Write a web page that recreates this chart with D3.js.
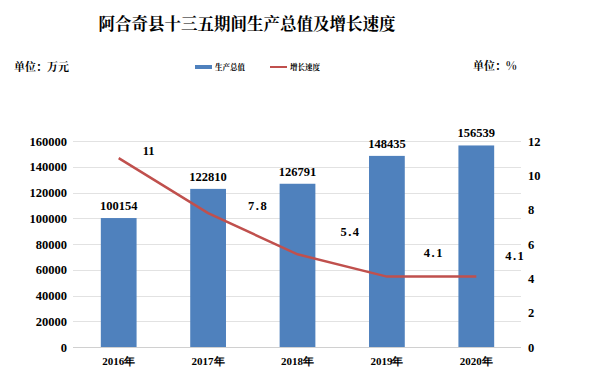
<!DOCTYPE html>
<html><head><meta charset="utf-8">
<script src="https://cdn.jsdelivr.net/npm/d3@7"></script>
<style>body{margin:0;background:#fff}</style>
</head><body>
<svg id="c" width="593" height="383"></svg>
<script>
const categories = ["2016年","2017年","2018年","2019年","2020年"];
const gdp = [100154,122810,126791,148435,156539];
const growth = [11,7.8,5.4,4.1,4.1];
const leftTicks = [0,20000,40000,60000,80000,100000,120000,140000,160000];
const rightTicks = [0,2,4,6,8,10,12];
const growthLabelDx = [30,50,53,47,39];
const growthLabelDy = [-3,-3,-18,-20,-17];

const svg = d3.select("#c");
const serif = "'Liberation Serif','DejaVu Serif',serif";
const cjk = "'Noto Serif CJK SC','Noto Sans CJK SC',sans-serif";
const m = {l:74, r:521, t:141, b:347};
const x = d3.scaleBand().domain(categories).range([m.l,m.r]).paddingInner(0.6).paddingOuter(0.3);
const yL = d3.scaleLinear().domain([0,160000]).range([m.b,m.t]);
const yR = d3.scaleLinear().domain([0,12]).range([m.b,m.t]);

svg.append("text").attr("x",247).attr("y",30).attr("text-anchor","middle")
  .attr("font-family",cjk).attr("font-weight","bold").attr("font-size",16.5).text("阿合奇县十三五期间生产总值及增长速度");
svg.append("text").attr("x",14).attr("y",71).attr("font-family",cjk).attr("font-weight","bold").attr("font-size",11).text("单位：万元");
svg.append("text").attr("x",473).attr("y",70).attr("font-family",cjk).attr("font-weight","bold").attr("font-size",11).text("单位：%");

// legend
svg.append("rect").attr("x",195).attr("y",65).attr("width",17).attr("height",4).attr("fill","#4f81bd");
svg.append("text").attr("x",215).attr("y",70).attr("font-family",cjk).attr("font-weight","bold").attr("font-size",7.5).text("生产总值");
svg.append("line").attr("x1",270).attr("x2",287).attr("y1",67).attr("y2",67).attr("stroke","#c0504d").attr("stroke-width",2);
svg.append("text").attr("x",290).attr("y",70).attr("font-family",cjk).attr("font-weight","bold").attr("font-size",7.5).text("增长速度");

// gridlines
svg.append("g").selectAll("line").data(leftTicks).join("line")
  .attr("x1",m.l-1).attr("x2",m.r).attr("y1",d=>Math.round(yL(d))+0.5).attr("y2",d=>Math.round(yL(d))+0.5)
  .attr("stroke",d=>d===0?"#d0d0d0":"#e2e2e2").attr("stroke-width",1);

// left axis
const gl = svg.append("g").attr("transform",`translate(${m.l-7},0)`)
  .call(d3.axisLeft(yL).tickValues(leftTicks).tickSize(0).tickPadding(0).tickFormat(d3.format("d")));
gl.select(".domain").remove();
gl.selectAll("text").attr("font-family",serif).attr("font-weight","bold").attr("font-size",12.5).attr("fill","#000");

// right axis
const gr = svg.append("g").attr("transform",`translate(${m.r+7},0)`)
  .call(d3.axisRight(yR).tickValues(rightTicks).tickSize(0).tickPadding(0));
gr.select(".domain").remove();
gr.selectAll("text").attr("font-family",serif).attr("font-weight","bold").attr("font-size",12.5).attr("fill","#000");

// bottom axis
const gb = svg.append("g").attr("transform",`translate(0,${m.b})`)
  .call(d3.axisBottom(x).tickSize(0).tickPadding(10));
gb.select(".domain").remove();
gb.selectAll("text").attr("font-family",serif).attr("font-weight","bold").attr("font-size",11).attr("fill","#000");

// bars
svg.append("g").selectAll("rect").data(gdp).join("rect")
  .attr("x",(d,i)=>x(categories[i])).attr("width",x.bandwidth())
  .attr("y",d=>yL(d)).attr("height",d=>m.b-yL(d)).attr("fill","#4f81bd");
svg.append("g").selectAll("text").data(gdp).join("text")
  .attr("x",(d,i)=>x(categories[i])+x.bandwidth()/2).attr("y",d=>yL(d)-8)
  .attr("text-anchor","middle").attr("font-family",serif).attr("font-weight","bold").attr("font-size",12.5).text(d=>d);

// line
const line = d3.line().x((d,i)=>x(categories[i])+x.bandwidth()/2).y(d=>yR(d));
svg.append("path").datum(growth).attr("d",line).attr("fill","none").attr("stroke","#c0504d").attr("stroke-width",2.5);
svg.append("g").selectAll("text").data(growth).join("text")
  .attr("x",(d,i)=>x(categories[i])+x.bandwidth()/2+growthLabelDx[i]).attr("y",(d,i)=>yR(d)+growthLabelDy[i])
  .attr("text-anchor","middle").attr("font-family",serif).attr("font-weight","bold").attr("font-size",12.5)
  .attr("letter-spacing",d=>Number.isInteger(d)?0:1.5).text(d=>d);
</script>
</body></html>
